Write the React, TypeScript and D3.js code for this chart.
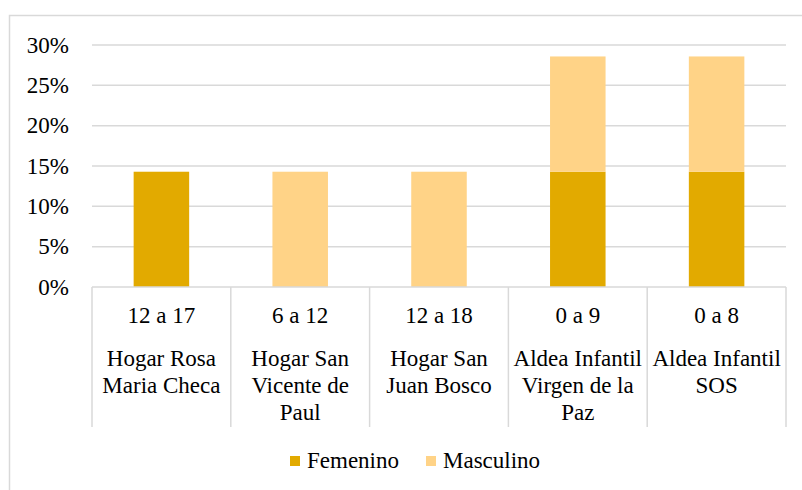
import React, { useEffect, useRef } from "react";
import * as d3 from "d3";

const categories = ["Hogar Rosa Maria Checa", "Hogar San Vicente de Paul", "Hogar San Juan Bosco", "Aldea Infantil Virgen de la Paz", "Aldea Infantil SOS"];
const ageRanges = ["12 a 17", "6 a 12", "12 a 18", "0 a 9", "0 a 8"];
const nameLines = [
  ["Hogar Rosa", "Maria Checa"],
  ["Hogar San", "Vicente de", "Paul"],
  ["Hogar San", "Juan Bosco"],
  ["Aldea Infantil", "Virgen de la", "Paz"],
  ["Aldea Infantil", "SOS"],
];
const femenino = [0.1429, 0, 0, 0.1429, 0.1429];
const masculino = [0, 0.1429, 0.1429, 0.1429, 0.1429];
const seriesNames = ["Femenino", "Masculino"];
const seriesColors = ["#E2AA00", "#FFD387"];
const yTicks = [0, 0.05, 0.1, 0.15, 0.2, 0.25, 0.3];

const W = 802;
const H = 490;
const FONT = "Times New Roman";

export default function App() {
  const ref = useRef<SVGSVGElement>(null);

  useEffect(() => {
    const svg = d3.select(ref.current);
    svg.selectAll("*").remove();
    const left = 92, right = 786, top = 45, bottom = 287;
    const x = d3.scaleBand<string>().domain(categories).range([left, right]).paddingInner(0).paddingOuter(0);
    const y = d3.scaleLinear().domain([0, 0.3]).range([bottom, top]);
    const rows = categories.map((c, i) => ({ cat: c, Femenino: femenino[i], Masculino: masculino[i] }));
    const stacked = d3.stack<any>().keys(seriesNames)(rows);
    const bw = x.bandwidth() * 0.4;
    const fmt = d3.format(".0%");
    const grid = "#D9D9D9";

    const addText = (g: any, tx: number, ty: number, s: string, anchor = "start", dy = "0") =>
      g.append("text")
        .attr("x", tx).attr("y", ty).attr("dy", dy)
        .attr("text-anchor", anchor)
        .attr("fill", "#000")
        .style("font-family", FONT)
        .style("font-size", "23px")
        .text(s);

    svg.append("rect").attr("x", 9.5).attr("y", 15.5).attr("width", 900).attr("height", 600)
      .attr("fill", "#fff").attr("stroke", grid).attr("stroke-width", 1.5);

    yTicks.filter((t) => t > 0).forEach((t) => {
      svg.append("line").attr("x1", left).attr("x2", right).attr("y1", y(t)).attr("y2", y(t))
        .attr("stroke", grid).attr("stroke-width", 1.5);
    });
    yTicks.forEach((t) => addText(svg, 69, y(t), fmt(t), "end", "0.33em"));

    stacked.forEach((s, si) => {
      s.forEach((d, i) => {
        const h = y(d[0]) - y(d[1]);
        if (h <= 0) return;
        svg.append("rect")
          .attr("x", (x(categories[i]) as number) + (x.bandwidth() - bw) / 2)
          .attr("y", y(d[1])).attr("width", bw).attr("height", h)
          .attr("fill", seriesColors[si]);
      });
    });

    svg.append("line").attr("x1", left).attr("x2", right).attr("y1", bottom).attr("y2", bottom)
      .attr("stroke", grid).attr("stroke-width", 1.5);
    [...categories.map((c) => x(c) as number), right].forEach((bx) => {
      svg.append("line").attr("x1", bx).attr("x2", bx).attr("y1", bottom).attr("y2", 427)
        .attr("stroke", grid).attr("stroke-width", 1.5);
    });

    categories.forEach((c, i) => {
      const cx = (x(c) as number) + x.bandwidth() / 2;
      addText(svg, cx, 323, ageRanges[i], "middle");
      nameLines[i].forEach((ln, j) => addText(svg, cx, 366 + j * 27, ln, "middle"));
    });

    svg.append("rect").attr("x", 290).attr("y", 456).attr("width", 10).attr("height", 10).attr("fill", seriesColors[0]);
    addText(svg, 307, 468, seriesNames[0]);
    svg.append("rect").attr("x", 426).attr("y", 456).attr("width", 10).attr("height", 10).attr("fill", seriesColors[1]);
    addText(svg, 443, 468, seriesNames[1]);
  }, []);

  return (
    <svg ref={ref} width={W} height={H} style={{ position: "absolute", left: 0, top: 0, background: "#fff" }} />
  );
}
